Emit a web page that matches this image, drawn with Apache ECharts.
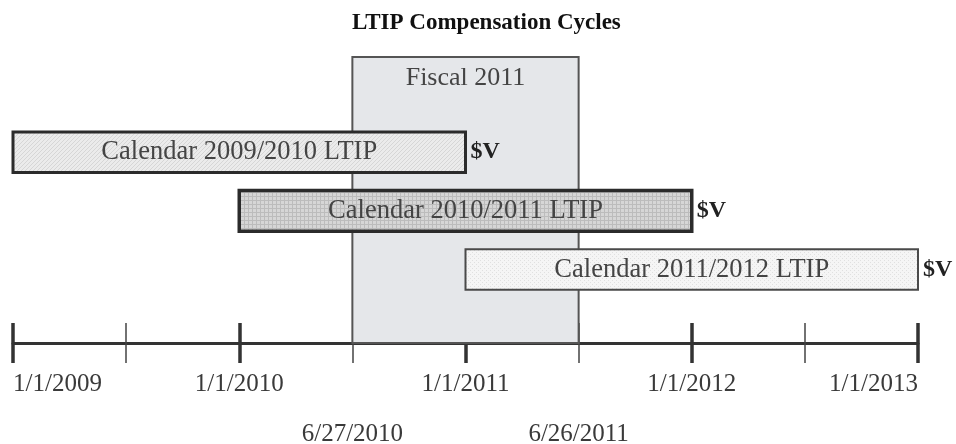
<!DOCTYPE html>
<html>
<head>
<meta charset="utf-8">
<title>LTIP Compensation Cycles</title>
<script src="https://cdn.jsdelivr.net/npm/echarts@6/dist/echarts.min.js"></script>
<style>
  html, body { margin: 0; padding: 0; background: #fff; }
  #chart { width: 956px; height: 444px; }
</style>
</head>
<body>
<div id="chart"></div>
<script>
// LTIP cycles: start / end in years
const planNames = ['Calendar 2009/2010 LTIP', 'Calendar 2010/2011 LTIP', 'Calendar 2011/2012 LTIP'];
const planStart = [2009, 2010, 2011];
const planEnd = [2011, 2012, 2013];
const planTag = ['$V', '$V', '$V'];

// fiscal year window (sits on the mid-year ticks)
const fiscalName = 'Fiscal 2011';
const fiscalBounds = [2010.5, 2011.5];
const fiscalLabels = ['6/27/2010', '6/26/2011'];

// timeline
const axisMin = 2009, axisMax = 2013;
const yearLabels = ['1/1/2009', '1/1/2010', '1/1/2011', '1/1/2012', '1/1/2013'];

const SERIF = '"Liberation Serif", "DejaVu Serif", serif';
const INK = '#3a3a3a';

// small repeating textures, like the printed screens in the original
function texture(bg, fg, cells) {
  const c = document.createElement('canvas');
  c.width = 4;
  c.height = 4;
  const ctx = c.getContext('2d');
  ctx.fillStyle = bg;
  ctx.fillRect(0, 0, 4, 4);
  ctx.fillStyle = fg;
  cells.forEach(([x, y]) => ctx.fillRect(x, y, 1, 1));
  return { image: c, repeat: 'repeat' };
}

// look of each bar (light hatch, darker grid, very light dots)
const planStyle = [
  { fill: texture('#ebebeb', '#d6d6d6', [[0, 3], [1, 2], [2, 1], [3, 0]]), stroke: '#2b2b2b', lw: 3 },
  { fill: texture('#d6d6d6', '#bcbcbc', [[0, 0], [0, 1], [0, 2], [0, 3], [1, 0], [2, 0], [3, 0]]), stroke: '#2b2b2b', lw: 3.5 },
  { fill: texture('#f5f5f5', '#e0e0e0', [[0, 0], [2, 2]]), stroke: '#4a4a4a', lw: 2 }
];

const chart = echarts.init(document.getElementById('chart'));

const baseX = {
  type: 'value',
  min: axisMin,
  max: axisMax,
  interval: 1,
  position: 'bottom',
  splitLine: { show: false },
  minorSplitLine: { show: false }
};

const option = {
  animation: false,
  backgroundColor: '#fff',
  title: {
    text: 'LTIP Compensation Cycles',
    left: 352,
    top: 12,
    padding: 0,
    textStyle: { fontFamily: SERIF, fontWeight: 'bold', fontSize: 23, color: '#111' }
  },
  grid: { left: 13, right: 38, top: 57, bottom: 101, outerBoundsMode: 'none' },
  xAxis: [
    {
      ...baseX,
      axisLine: { show: true, onZero: false, lineStyle: { color: '#333', width: 3 } },
      axisTick: { show: true, inside: false, length: 20, lineStyle: { color: '#333', width: 3.5 } },
      minorTick: { show: true, splitNumber: 2, length: 20, lineStyle: { color: '#444', width: 1.5 } },
      axisLabel: {
        margin: 29,
        formatter: v => yearLabels[Math.round(v - axisMin)],
        fontFamily: SERIF,
        fontSize: 25,
        color: INK,
        alignMinLabel: 'left',
        alignMaxLabel: 'right'
      }
    },
    {
      ...baseX,
      axisLine: { show: false, onZero: false },
      axisTick: { show: true, inside: true, length: 20, lineStyle: { color: '#333', width: 3.5 } },
      minorTick: { show: true, splitNumber: 2, length: 20, lineStyle: { color: '#444', width: 1.5 } },
      axisLabel: { show: false }
    },
    {
      ...baseX,
      axisLine: { show: false, onZero: false },
      axisTick: { show: false },
      minorTick: { show: false },
      axisLabel: {
        customValues: fiscalBounds,
        margin: 79,
        formatter: v => fiscalLabels[fiscalBounds.indexOf(v)],
        fontFamily: SERIF,
        fontSize: 25,
        color: INK
      }
    }
  ],
  yAxis: { type: 'value', inverse: true, min: -0.62, max: 4.25, show: false },
  series: [
    {
      // fiscal year box, full height of the plot
      type: 'custom',
      z: 1,
      data: [[fiscalBounds[0], fiscalBounds[1]]],
      encode: { x: [0, 1] },
      renderItem: (params, api) => {
        const cs = params.coordSys;
        const x0 = api.coord([api.value(0), 0])[0];
        const x1 = api.coord([api.value(1), 0])[0];
        return {
          type: 'group',
          children: [
            {
              type: 'rect',
              shape: { x: x0, y: cs.y, width: x1 - x0, height: cs.height },
              style: { fill: '#e5e7ea', stroke: '#555', lineWidth: 2 }
            },
            {
              type: 'text',
              style: {
                text: fiscalName, x: (x0 + x1) / 2, y: cs.y + 21,
                align: 'center', verticalAlign: 'middle',
                fontFamily: SERIF, fontSize: 26, fill: '#444'
              }
            }
          ]
        };
      }
    },
    {
      type: 'custom',
      z: 3,
      data: planNames.map((n, i) => [planStart[i], planEnd[i], i + 1, i]),
      encode: { x: [0, 1], y: 2 },
      renderItem: (params, api) => {
        const i = api.value(3);
        const p0 = api.coord([api.value(0), api.value(2)]);
        const p1 = api.coord([api.value(1), api.value(2)]);
        const h = api.size([0, 1])[1] * 0.69;
        const s = planStyle[i];
        return {
          type: 'group',
          children: [
            {
              type: 'rect',
              shape: { x: p0[0], y: p0[1] - h / 2, width: p1[0] - p0[0], height: h },
              style: { fill: s.fill, stroke: s.stroke, lineWidth: s.lw }
            },
            {
              type: 'text',
              style: {
                text: planNames[i], x: (p0[0] + p1[0]) / 2, y: p0[1],
                align: 'center', verticalAlign: 'middle',
                fontFamily: SERIF, fontSize: 26.5, fill: '#444'
              }
            },
            {
              type: 'text',
              style: {
                text: planTag[i], x: p1[0] + 5, y: p0[1],
                align: 'left', verticalAlign: 'middle',
                fontFamily: SERIF, fontWeight: 'bold', fontSize: 24, fill: '#222'
              }
            }
          ]
        };
      }
    }
  ]
};

chart.setOption(option);
</script>
</body>
</html>
